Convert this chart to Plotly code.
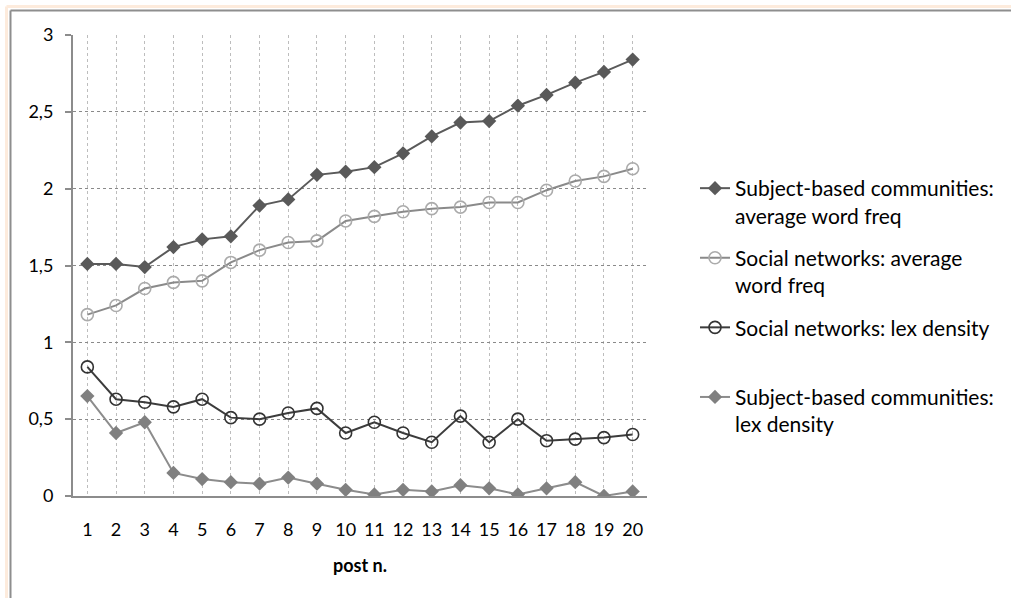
import plotly.graph_objects as go

posts = list(range(1, 21))
post_labels = [str(p) for p in posts]

subj_avg_freq = [1.51, 1.51, 1.49, 1.62, 1.67, 1.69, 1.89, 1.93, 2.09, 2.11,
                 2.14, 2.23, 2.34, 2.43, 2.44, 2.54, 2.61, 2.69, 2.76, 2.84]
soc_avg_freq = [1.18, 1.24, 1.35, 1.39, 1.40, 1.52, 1.60, 1.65, 1.66, 1.79,
                1.82, 1.85, 1.87, 1.88, 1.91, 1.91, 1.99, 2.05, 2.08, 2.13]
soc_lex_density = [0.84, 0.63, 0.61, 0.58, 0.63, 0.51, 0.50, 0.54, 0.57, 0.41,
                   0.48, 0.41, 0.35, 0.52, 0.35, 0.50, 0.36, 0.37, 0.38, 0.40]
subj_lex_density = [0.65, 0.41, 0.48, 0.15, 0.11, 0.09, 0.08, 0.12, 0.08, 0.04,
                    0.01, 0.04, 0.03, 0.07, 0.05, 0.01, 0.05, 0.09, 0.00, 0.03]

y_tickvals = [0, 0.5, 1, 1.5, 2, 2.5, 3]
y_ticktext = ["0", "0,5", "1", "1,5", "2", "2,5", "3"]

names = [
    "Subject-based communities:<br>average word freq",
    "Social networks: average<br>word freq",
    "Social networks: lex density<br> ",
    "Subject-based communities:<br>lex density",
]

FONT = "Lato, Liberation Sans, Arial, sans-serif"
W, H = 1011, 598
ML, MR, MT, MB = 73, 364, 35, 102
PW, PH = W - ML - MR, H - MT - MB


def px_x(px):
    return (px - ML) / PW


def px_y(py):
    return (H - MB - py) / PH


fig = go.Figure()

fig.add_trace(go.Scatter(
    x=posts, y=subj_avg_freq, name=names[0], mode="lines+markers",
    line=dict(color="#5a5a5a", width=2),
    marker=dict(symbol="diamond", size=11, color="#595959"),
    legendgroup="a"))
fig.add_trace(go.Scatter(
    x=posts, y=soc_avg_freq, name=names[1], mode="lines+markers",
    line=dict(color="#8a8a8a", width=2),
    marker=dict(symbol="circle-open", size=12, color="#ababab", line=dict(width=1.6)),
    legendgroup="b"))
fig.add_trace(go.Scatter(
    x=posts, y=soc_lex_density, name=names[2], mode="lines+markers",
    line=dict(color="#3c3c3c", width=2),
    marker=dict(symbol="circle-open", size=12, color="#333333", line=dict(width=1.6)),
    legendgroup="c"))
fig.add_trace(go.Scatter(
    x=posts, y=subj_lex_density, name=names[3], mode="lines+markers",
    line=dict(color="#8c8c8c", width=2),
    marker=dict(symbol="diamond", size=11, color="#808080"),
    legendgroup="d"))

# outer chart frame (top and left edges; the rest lies outside the picture)
for off, col, wd in [(6.5, "#fdebdc", 3), (10.5, "#8e8e8e", 2)]:
    fig.add_shape(type="line", xref="paper", yref="paper",
                  x0=px_x(off), x1=px_x(1040), y0=px_y(off), y1=px_y(off),
                  line=dict(color=col, width=wd), layer="below")
    fig.add_shape(type="line", xref="paper", yref="paper",
                  x0=px_x(off), x1=px_x(off), y0=px_y(off), y1=px_y(640),
                  line=dict(color=col, width=wd), layer="below")

fig.update_layout(
    width=W, height=H,
    margin=dict(l=ML, r=MR, t=MT, b=MB),
    paper_bgcolor="white", plot_bgcolor="white",
    font=dict(family=FONT, size=18, color="#000000"),
    showlegend=True,
    legend=dict(x=px_x(695), y=px_y(168), xanchor="left", yanchor="top",
                font=dict(family=FONT, size=21, color="#000000"),
                valign="top", traceorder="grouped", tracegroupgap=12,
                bgcolor="rgba(0,0,0,0)"),
    xaxis=dict(range=[0.5, 20.5], tickvals=posts, ticktext=post_labels,
               showgrid=True, gridcolor="#bdbdbd", griddash="dot", gridwidth=1,
               showline=True, linecolor="#8c8c8c", linewidth=2,
               ticks="", ticklabelstandoff=16, zeroline=False,
               tickfont=dict(family=FONT, size=18, color="#000000"),
               title=dict(text="<b>post n.</b>", standoff=21,
                          font=dict(family=FONT, size=18, color="#000000"))),
    yaxis=dict(range=[0, 3], tickvals=y_tickvals, ticktext=y_ticktext,
               showgrid=True, gridcolor="#8a8a8a", griddash="dot", gridwidth=1,
               showline=True, linecolor="#8c8c8c", linewidth=2,
               ticks="outside", ticklen=6, tickcolor="#8c8c8c", tickwidth=2,
               ticklabelstandoff=8, zeroline=False,
               tickfont=dict(family=FONT, size=18, color="#000000")),
)

fig.write_html("out.html", config={"displayModeBar": False},
               post_script="document.body.style.margin='0';document.body.style.overflow='hidden';")
